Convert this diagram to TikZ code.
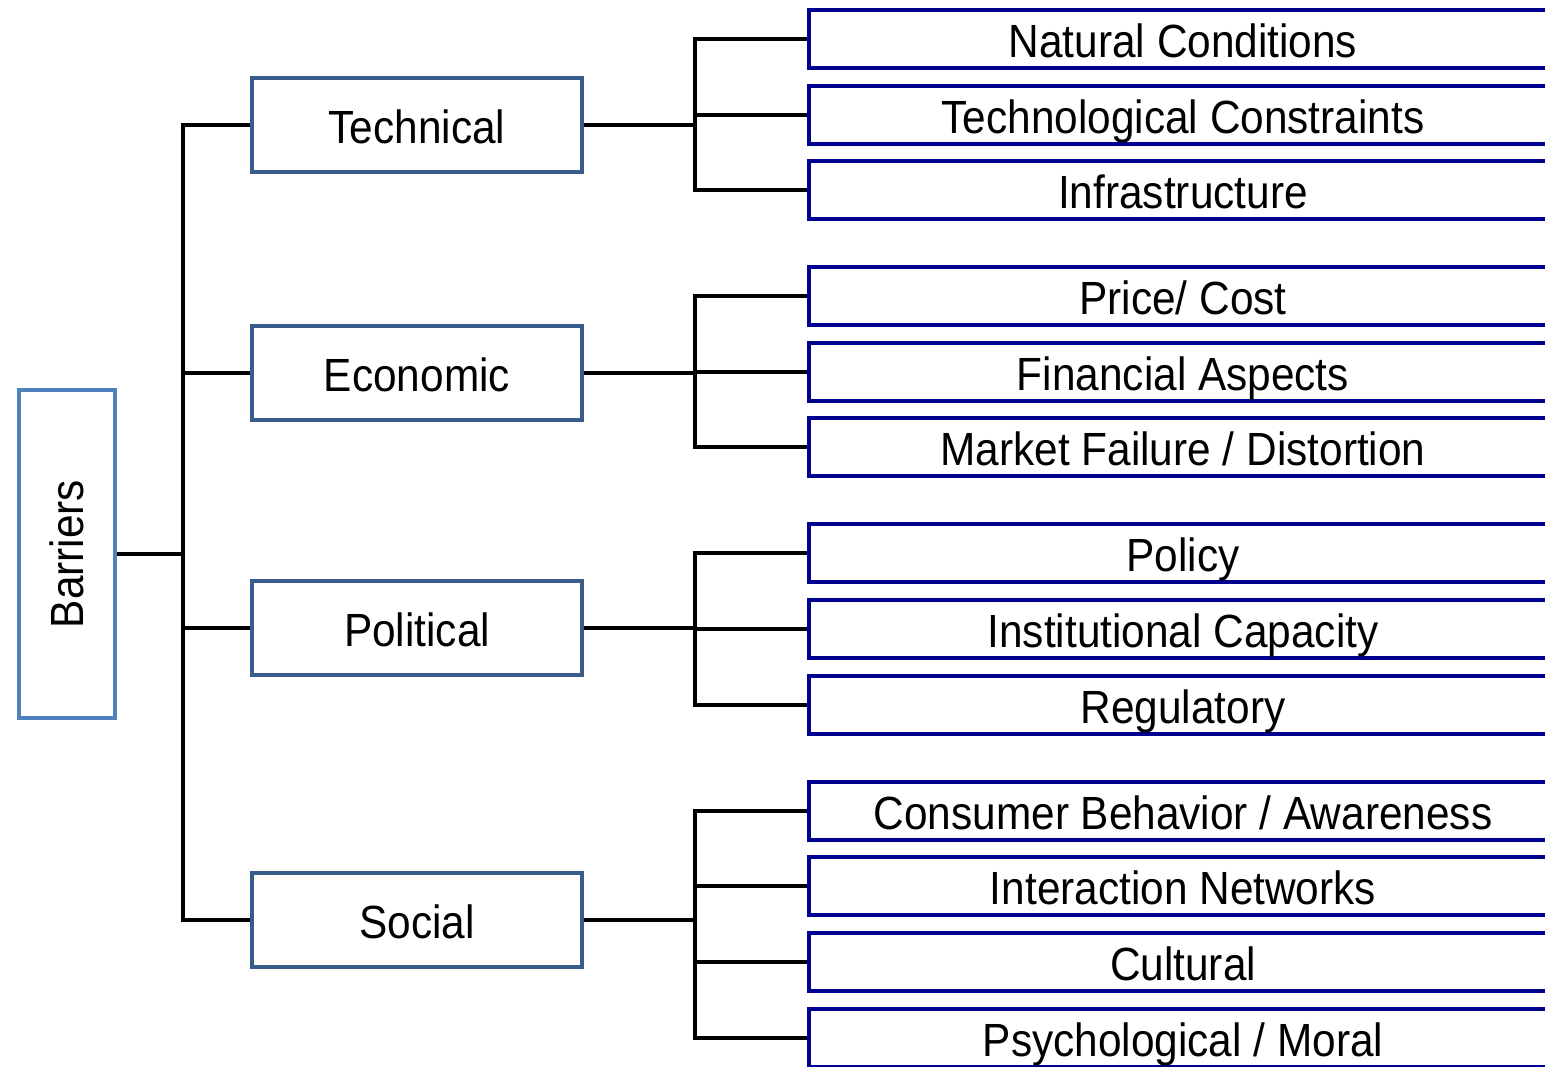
\documentclass[tikz,border=0pt]{standalone}
\usepackage{fontspec}
\setmainfont{Liberation Sans}[FakeStretch=0.91]
\definecolor{rootblue}{RGB}{79,129,189}
\definecolor{groupblue}{RGB}{56,93,138}
\definecolor{itemblue}{RGB}{0,0,145}

\begin{document}
\begin{tikzpicture}[x=0.02cm, y=-0.02cm, line width=0.09cm,
    every node/.style={font=\fontsize{26.5}{31}\selectfont, inner sep=0pt},
    rootbox/.style={draw=rootblue, fill=white, minimum width=1.92cm, minimum height=6.56cm},
    groupbox/.style={draw=groupblue, fill=white, minimum width=6.6cm, minimum height=1.88cm,
        text height=0.82cm, text depth=0.08cm},
    itembox/.style={draw=itemblue, fill=white, minimum width=14.96cm, minimum height=1.16cm,
        text height=0.82cm, text depth=0.08cm},
    branch/.style={draw=black, line join=miter}]
                \useasboundingbox (0,0) rectangle (1545,1066);
                \clip (0,0) rectangle (1545,1066);

                % the root and the four groups
                \node[rootbox] (barriers) at (67,554) {\rotatebox{90}{Barriers}};
                \node[groupbox] (technical) at (417,125) {Technical};
                \node[groupbox] (economic) at (417,373) {Economic};
                \node[groupbox] (political) at (417,628) {Political};
                \node[groupbox] (social) at (417,920) {Social};

                % the items of each group
                \node[itembox] (natural) at (1183,39) {Natural Conditions};
                \node[itembox] (techcon) at (1183,115) {Technological Constraints};
                \node[itembox] (infra) at (1183,190) {Infrastructure};

                \node[itembox] (price) at (1183,296) {Price/ Cost};
                \node[itembox] (financial) at (1183,372) {Financial Aspects};
                \node[itembox] (market) at (1183,447) {Market Failure / Distortion};

                \node[itembox] (policy) at (1183,553) {Policy};
                \node[itembox] (institutional) at (1183,629) {Institutional Capacity};
                \node[itembox] (regulatory) at (1183,705) {Regulatory};

                \node[itembox] (consumer) at (1183,811) {Consumer Behavior / Awareness};
                \node[itembox] (interaction) at (1183,886) {Interaction Networks};
                \node[itembox] (cultural) at (1183,962) {Cultural};
                \node[itembox] (psycho) at (1183,1038) {Psychological / Moral};

                % draw the tree lines
                \foreach \g in {technical, economic, political, social}
                    \draw[branch] (\g.west) -- ++(-67,0) |- (barriers.east);

                \foreach \i in {natural, techcon, infra}
                    \draw[branch] (technical.east) -- ++(111,0) |- (\i.west);
                \foreach \i in {price, financial, market}
                    \draw[branch] (economic.east) -- ++(111,0) |- (\i.west);
                \foreach \i in {policy, institutional, regulatory}
                    \draw[branch] (political.east) -- ++(111,0) |- (\i.west);
                \foreach \i in {consumer, interaction, cultural, psycho}
                    \draw[branch] (social.east) -- ++(111,0) |- (\i.west);

            \end{tikzpicture}
\end{document}
